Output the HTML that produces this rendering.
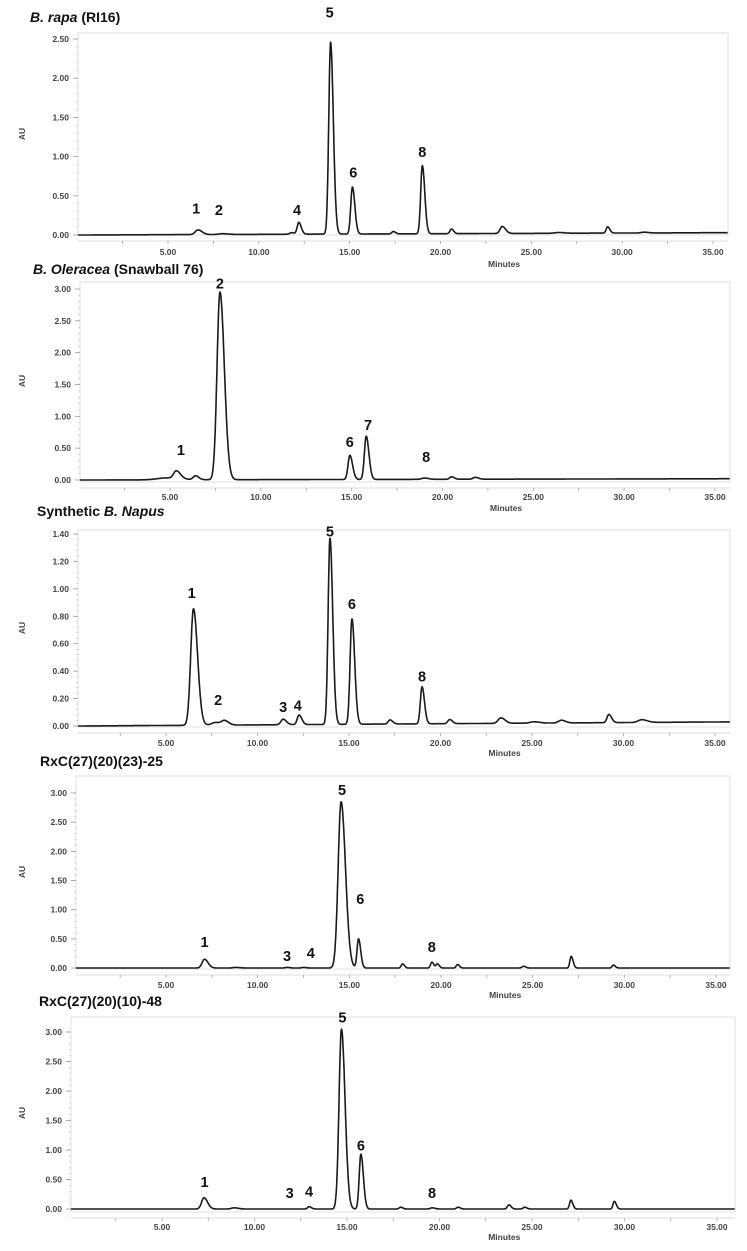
<!DOCTYPE html>
<html><head><meta charset="utf-8"><style>
body{margin:0;background:#fff}
svg{display:block}
.tl{font-family:"Liberation Sans",sans-serif;font-size:8.5px;font-weight:bold;fill:#444}
.ti{font-family:"Liberation Sans",sans-serif;font-size:14px;font-weight:bold;fill:#111}
.pk{font-family:"Liberation Sans",sans-serif;font-size:14.5px;font-weight:bold;fill:#111}
</style></head><body>
<svg id="c" width="747" height="1251" viewBox="0 0 747 1251" xmlns="http://www.w3.org/2000/svg"></svg>
<script>
// Panel titles
const titles1 = ['B. rapa', ' (RI16)'];
const titles2 = ['B. Oleracea', ' (Snawball 76)'];
const titles3 = ['Synthetic ', 'B. Napus'];
const titles4 = ['RxC(27)(20)(23)-25'];
const titles5 = ['RxC(27)(20)(10)-48'];
// X tick labels (minutes)
const xTicks = [5, 10, 15, 20, 25, 30, 35];
// Y tick values per panel
const yTicks1 = [0, 0.5, 1.0, 1.5, 2.0, 2.5];
const yTicks2 = [0, 0.5, 1.0, 1.5, 2.0, 2.5, 3.0];
const yTicks3 = [0, 0.2, 0.4, 0.6, 0.8, 1.0, 1.2, 1.4];
const yTicks4 = [0, 0.5, 1.0, 1.5, 2.0, 2.5, 3.0];
const yTicks5 = [0, 0.5, 1.0, 1.5, 2.0, 2.5, 3.0];
// Peaks: retention times (min), heights (AU), widths (sigma min)
const times1 = [6.65, 8.0, 11.8, 12.2, 13.95, 15.15, 17.4, 19.0, 20.6, 23.4, 26.5, 29.2, 31.2];
const heights1 = [0.06, 0.01, 0.02, 0.15, 2.45, 0.6, 0.03, 0.87, 0.06, 0.09, 0.01, 0.08, 0.01];
const widths1 = [0.15, 0.2, 0.1, 0.09, 0.1, 0.09, 0.08, 0.09, 0.08, 0.12, 0.2, 0.08, 0.15];
const times2 = [5.35, 4.8, 6.4, 7.75, 14.9, 15.8, 19.0, 20.5, 21.8];
const heights2 = [0.12, 0.03, 0.06, 2.95, 0.38, 0.68, 0.02, 0.04, 0.03];
const widths2 = [0.15, 0.5, 0.12, 0.16, 0.1, 0.1, 0.15, 0.1, 0.12];
const times3 = [6.5, 7.7, 8.2, 11.4, 12.27, 13.96, 15.16, 17.24, 18.99, 20.5, 23.3, 25.1, 26.6, 29.2, 31.0];
const heights3 = [0.85, 0.02, 0.03, 0.04, 0.07, 1.36, 0.77, 0.03, 0.27, 0.03, 0.04, 0.01, 0.02, 0.06, 0.02];
const widths3 = [0.15, 0.2, 0.15, 0.12, 0.1, 0.1, 0.1, 0.1, 0.09, 0.1, 0.15, 0.2, 0.15, 0.1, 0.2];
const times4 = [7.1, 8.8, 11.6, 12.5, 14.55, 15.5, 17.9, 19.5, 19.8, 20.9, 24.5, 27.1, 29.4];
const heights4 = [0.15, 0.01, 0.01, 0.01, 2.85, 0.5, 0.07, 0.1, 0.07, 0.06, 0.03, 0.2, 0.05];
const widths4 = [0.13, 0.15, 0.1, 0.1, 0.16, 0.08, 0.07, 0.07, 0.07, 0.07, 0.08, 0.07, 0.07];
const times5 = [7.27, 8.9, 12.95, 14.7, 15.75, 17.9, 19.6, 21.0, 23.75, 24.6, 27.1, 29.45];
const heights5 = [0.19, 0.02, 0.04, 3.05, 0.93, 0.03, 0.02, 0.03, 0.07, 0.03, 0.15, 0.13];
const widths5 = [0.13, 0.15, 0.08, 0.13, 0.09, 0.08, 0.1, 0.08, 0.08, 0.08, 0.07, 0.07];
// Peak number labels: id, time, label height (AU)
const labIds1 = ['1','2','4','5','6','8'];
const labT1 = [6.55, 7.8, 12.1, 13.9, 15.2, 19.0];
const labV1 = [0.34, 0.32, 0.32, 2.84, 0.80, 1.06];
const labIds2 = ['1','2','6','7','8'];
const labT2 = [5.6, 7.75, 14.9, 15.9, 19.1];
const labV2 = [0.47, 3.09, 0.60, 0.86, 0.36];
const labIds3 = ['1','2','3','4','5','6','8'];
const labT3 = [6.4, 7.85, 11.4, 12.2, 13.96, 15.16, 18.99];
const labV3 = [0.97, 0.19, 0.14, 0.15, 1.42, 0.89, 0.36];
const labIds4 = ['1','3','4','5','6','8'];
const labT4 = [7.1, 11.6, 12.9, 14.6, 15.6, 19.5];
const labV4 = [0.45, 0.21, 0.26, 3.05, 1.18, 0.36];
const labIds5 = ['1','3','4','5','6','8'];
const labT5 = [7.3, 11.9, 12.95, 14.75, 15.75, 19.6];
const labV5 = [0.46, 0.27, 0.30, 3.25, 1.08, 0.27];
// Baseline drift at end of run (AU)
const drift = [0.03, 0.02, 0.03, 0.0, 0.0];

const NS = 'http://www.w3.org/2000/svg';
const svg = document.getElementById('c');
function mk(tag, attrs, parent) {
  const e = document.createElementNS(NS, tag);
  for (const k in attrs) e.setAttribute(k, attrs[k]);
  (parent || svg).appendChild(e);
  return e;
}
const panels = [
  {t: titles1, italicFirst: true, tx: 30, ty: 22, L: 78, R: 728, x5: 168, x35: 713, top: 33, y0: 235, yv: 2.5, yp: 39, ax: 241, lb: 255, mn: 267, yt: yTicks1, ti: times1, h: heights1, w: widths1, li: labIds1, lt: labT1, lv: labV1, dr: drift[0]},
  {t: titles2, italicFirst: true, tx: 33, ty: 274, L: 80, R: 730, x5: 170, x35: 715, top: 282, y0: 480, yv: 3.0, yp: 289, ax: 488, lb: 500, mn: 511, yt: yTicks2, ti: times2, h: heights2, w: widths2, li: labIds2, lt: labT2, lv: labV2, dr: drift[1]},
  {t: titles3, italicFirst: false, tx: 37, ty: 516, L: 78, R: 730, x5: 166, x35: 715, top: 530, y0: 726, yv: 1.4, yp: 534, ax: 733, lb: 746, mn: 756, yt: yTicks3, ti: times3, h: heights3, w: widths3, li: labIds3, lt: labT3, lv: labV3, dr: drift[2]},
  {t: titles4, italicFirst: false, tx: 40, ty: 766, L: 76, R: 730, x5: 166, x35: 716, top: 776, y0: 968, yv: 3.0, yp: 793, ax: 975, lb: 988, mn: 998, yt: yTicks4, ti: times4, h: heights4, w: widths4, li: labIds4, lt: labT4, lv: labV4, dr: drift[3]},
  {t: titles5, italicFirst: false, tx: 39, ty: 1006, L: 71, R: 735, x5: 162, x35: 717, top: 1017, y0: 1209, yv: 3.0, yp: 1032, ax: 1218, lb: 1230, mn: 1240, yt: yTicks5, ti: times5, h: heights5, w: widths5, li: labIds5, lt: labT5, lv: labV5, dr: drift[4]}
];
panels.forEach((p, pi) => {
  const g = mk('g', {});
  
  
  const sx = (p.x35 - p.x5) / 30;
  const X = t => p.x5 + (t - 5) * sx;
  const Y = v => p.y0 - v * (p.y0 - p.yp) / p.yv;
  const tMin = 5 - (p.x5 - p.L) / sx, tMax = 5 + (p.R - p.x5) / sx;
  const title = mk('text', {x: p.tx, y: p.ty, class: 'ti'}, g);
  
  
  p.t.forEach((s, i) => {
    const sp = mk('tspan', {}, title);
    if ((p.italicFirst && i === 0) || (!p.italicFirst && i === 1)) sp.setAttribute('font-style', 'italic');
    sp.textContent = s;
  });
  const box = mk('rect', {x: p.L, y: p.top, width: p.R - p.L, height: p.ax - p.top - 6, fill: 'none', stroke: '#e2e2e2', 'stroke-width': 1}, g);
  
  
  const step = p.yt[1] - p.yt[0];
  for (let v = 0; v <= p.yt[p.yt.length - 1] + 1e-9; v += step / 5) {
    mk('line', {x1: p.L - 2, x2: p.L, y1: Y(v), y2: Y(v), stroke: '#bbb', 'stroke-width': 0.6}, g);
  }
  p.yt.forEach(v => {
    mk('line', {x1: p.L - 5, x2: p.L, y1: Y(v), y2: Y(v), stroke: '#999', 'stroke-width': 0.8}, g);
    const tx = mk('text', {x: p.L - 9, y: Y(v) + 3, 'text-anchor': 'end', class: 'tl'}, g);
    
    
    tx.textContent = v.toFixed(2);
  });
  const au = mk('text', {x: 25, y: (p.top + p.y0) / 2, class: 'tl', transform: `rotate(-90 25 ${(p.top + p.y0) / 2})`, 'text-anchor': 'middle'}, g);
  
  
  au.textContent = 'AU';
  mk('line', {x1: p.L, x2: p.R, y1: p.ax, y2: p.ax, stroke: '#ddd', 'stroke-width': 1}, g);
  for (let t = 0; t <= tMax; t += 2.5) {
    if (t < tMin) continue;
    mk('line', {x1: X(t), x2: X(t), y1: p.ax, y2: p.ax + 3, stroke: '#999', 'stroke-width': 0.7}, g);
  }
  xTicks.forEach(t => {
    const tx = mk('text', {x: X(t), y: p.lb, 'text-anchor': 'middle', class: 'tl'}, g);
    
    
    tx.textContent = t.toFixed(2);
  });
  const mnu = mk('text', {x: X(23.5), y: p.mn, 'text-anchor': 'middle', class: 'tl'}, g);
  
  
  mnu.textContent = 'Minutes';
  let d = '';
  for (let t = tMin; t <= tMax; t += 0.02) {
    let v = p.dr * (t - tMin) / (tMax - tMin);
    for (let i = 0; i < p.ti.length; i++) {
      const dt = t - p.ti[i];
      const s = dt < 0 ? p.w[i] : p.w[i] * 1.5;
      v += p.h[i] * Math.exp(-dt * dt / (2 * s * s));
    }
    d += (d ? 'L' : 'M') + X(t).toFixed(1) + ' ' + Y(v).toFixed(1);
  }
  const path = mk('path', {d: d, fill: 'none', stroke: '#1a1a1a', 'stroke-width': 1.6, 'stroke-linejoin': 'round'}, g);
  
  
  p.li.forEach((id, i) => {
    const tx = mk('text', {x: X(p.lt[i]), y: Y(p.lv[i]) + 5, 'text-anchor': 'middle', class: 'pk'}, g);
    
    
    tx.textContent = id;
  });
});
</script>
</body></html>
